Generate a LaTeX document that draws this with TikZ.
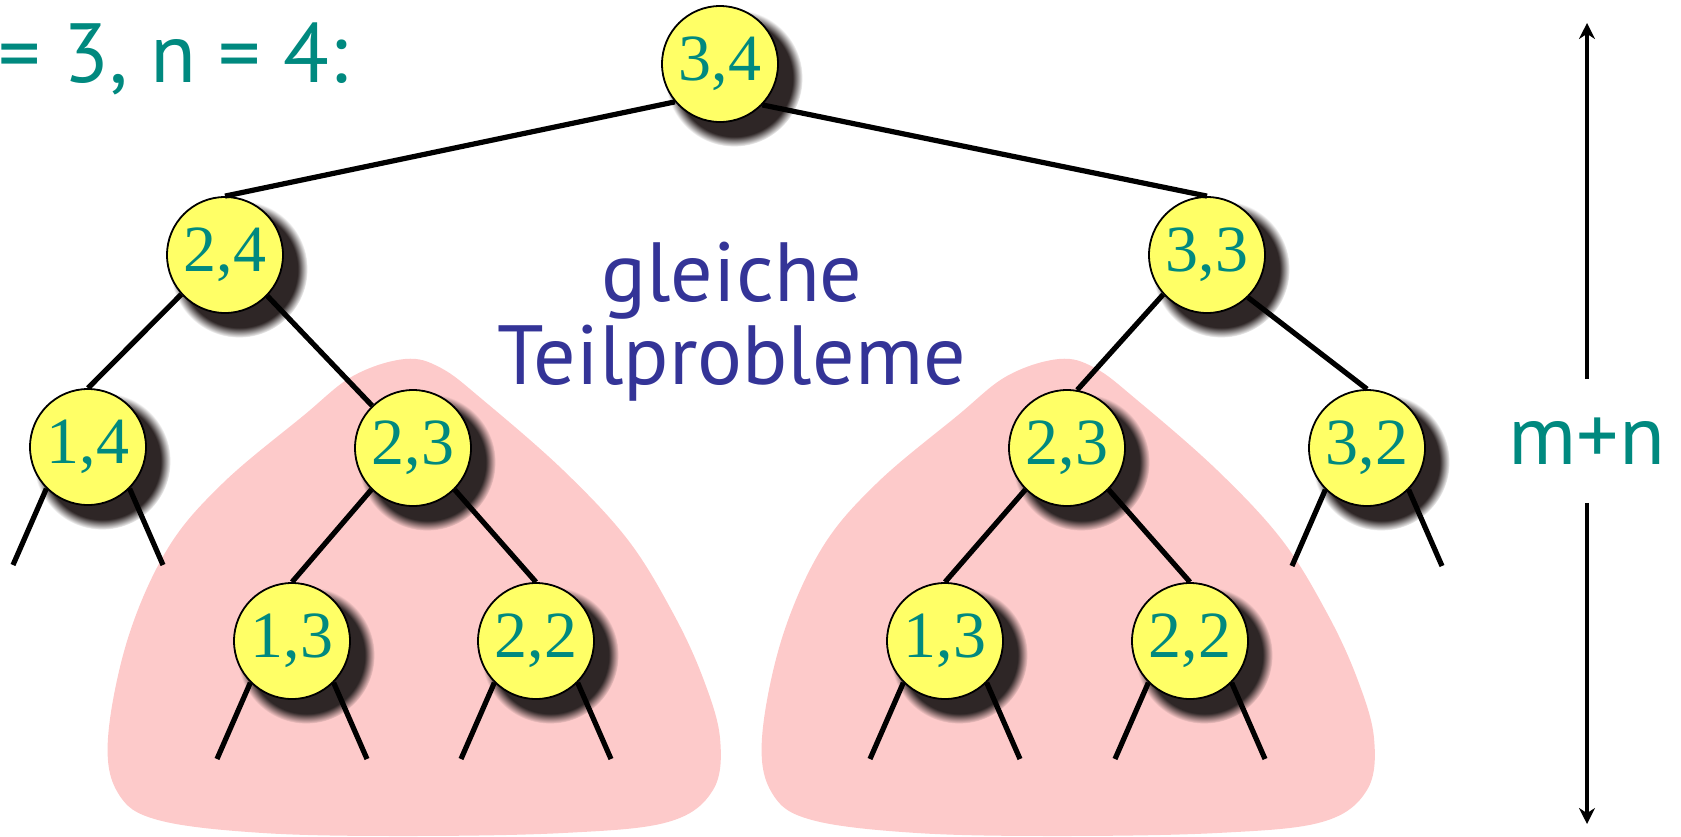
\documentclass[tikz,border=0pt]{standalone}
\usepackage{fontspec}
\usepackage{xcolor}
\usetikzlibrary{arrows.meta}
\usetikzlibrary{shadows}
\newfontfamily\numfont{Liberation Serif}
\newfontfamily\labelfont{PT Sans}
\definecolor{numtext}{HTML}{00897F}
\definecolor{probblue}{HTML}{343497}
\definecolor{blobpink}{HTML}{FDCACA}
\definecolor{callfill}{HTML}{FFFF66}
\definecolor{shade}{HTML}{2E2626}
\tikzset{
  % One call (m,n) of the recursion
  call/.style={
    circle, draw=black, line width=0.9pt, fill=callfill, minimum size=58pt,
    inner sep=0pt, text=numtext, font=\numfont\fontsize{33}{33}\selectfont,
    circular drop shadow={shadow xshift=6pt, shadow yshift=-6pt,
                          shadow scale=1.18, fill=shade}},
  % Links of the call tree
  callline/.style={draw=black, line width=2.6pt},
  cutline/.style={draw=black, line width=2.6pt},
  heightarrow/.style={-{Stealth[length=8pt, width=8pt]}, draw=black, line width=2.2pt},
  bigtext/.style={font=\labelfont\fontsize{42}{41.5}\selectfont, inner sep=0pt},
}
% Two cut-off branches below a call
\newcommand{\cutoff}[1]{%
  \coordinate (#1-l) at ([shift={(-75,118)}]#1.center);
  \coordinate (#1-r) at ([shift={(75,118)}]#1.center);
  \draw[cutline] (#1.225) -- (#1-l);
  \draw[cutline] (#1.315) -- (#1-r);}
% Pink area round a repeated subtree
\newcommand{\subblob}[1]{%
  \begin{scope}[shift={(#1)}]
    \fill[blobpink] plot[smooth cycle, tension=0.6] coordinates {
      (-8,-89) (-60,-72) (-110,-32) (-190,35) (-245,100) (-285,190)
      (-305,290) (-295,345) (-255,372) (-150,385) (-8,388) (150,385)
      (255,374) (300,342) (307,290) (290,230) (260,165) (215,92)
      (150,22) (70,-48) (28,-80)};
  \end{scope}}

\begin{document}
\begin{tikzpicture}[x=0.5pt, y=-0.5pt]
  \useasboundingbox (0,0) rectangle (1681,836);

  % the two repeated subtrees
  \coordinate (left23) at (413,448);
  \coordinate (right23) at (1067,448);
  \subblob{left23}
  \subblob{right23}

  \node[call] (c34) at (720,64) {3,4};
  \node[call] (c24) at (225,255) {2,4};
  \node[call] (c33) at (1207,255) {3,3};
  \node[call] (c14) at (88,447) {1,4};
  \node[call] (c23l) at (left23) {2,3};
  \node[call] (c23r) at (right23) {2,3};
  \node[call] (c32) at (1367,448) {3,2};
  \node[call] (c13l) at (292,641) {1,3};
  \node[call] (c22l) at (536,641) {2,2};
  \node[call] (c13r) at (945,641) {1,3};
  \node[call] (c22r) at (1190,641) {2,2};

  \draw[callline] (c34.220) -- (c24.north);
  \draw[callline] (c34.316) -- (c33.north);
  \draw[callline] (c24.222) -- (c14.north);
  \draw[callline] (c24.316) -- (c23l.134);
  \draw[callline] (c33.222) -- (c23r.80);
  \draw[callline] (c33.314) -- (c32.north);
  \draw[callline] (c23l.225) -- (c13l.north);
  \draw[callline] (c23l.315) -- (c22l.north);
  \draw[callline] (c23r.225) -- (c13r.north);
  \draw[callline] (c23r.315) -- (c22r.north);

  \foreach \n in {c14,c32,c13l,c22l,c13r,c22r} {\cutoff{\n}}

  \node[bigtext, text=numtext, anchor=base west] (mn34) at (-2,82) {= 3, n = 4:};
  \node[bigtext, text=probblue, align=center] (same) at (732,322)
    {gleiche\\Teilprobleme};

  \node[bigtext, text=numtext, minimum height=61.5pt] (mn) at (1587,441) {m+n};
  \coordinate (htop) at (1587,23);
  \coordinate (hbot) at (1587,824);
  \draw[heightarrow] (mn.north) -- (htop);
  \draw[heightarrow] (mn.south) -- (hbot);
\end{tikzpicture}
\end{document}
